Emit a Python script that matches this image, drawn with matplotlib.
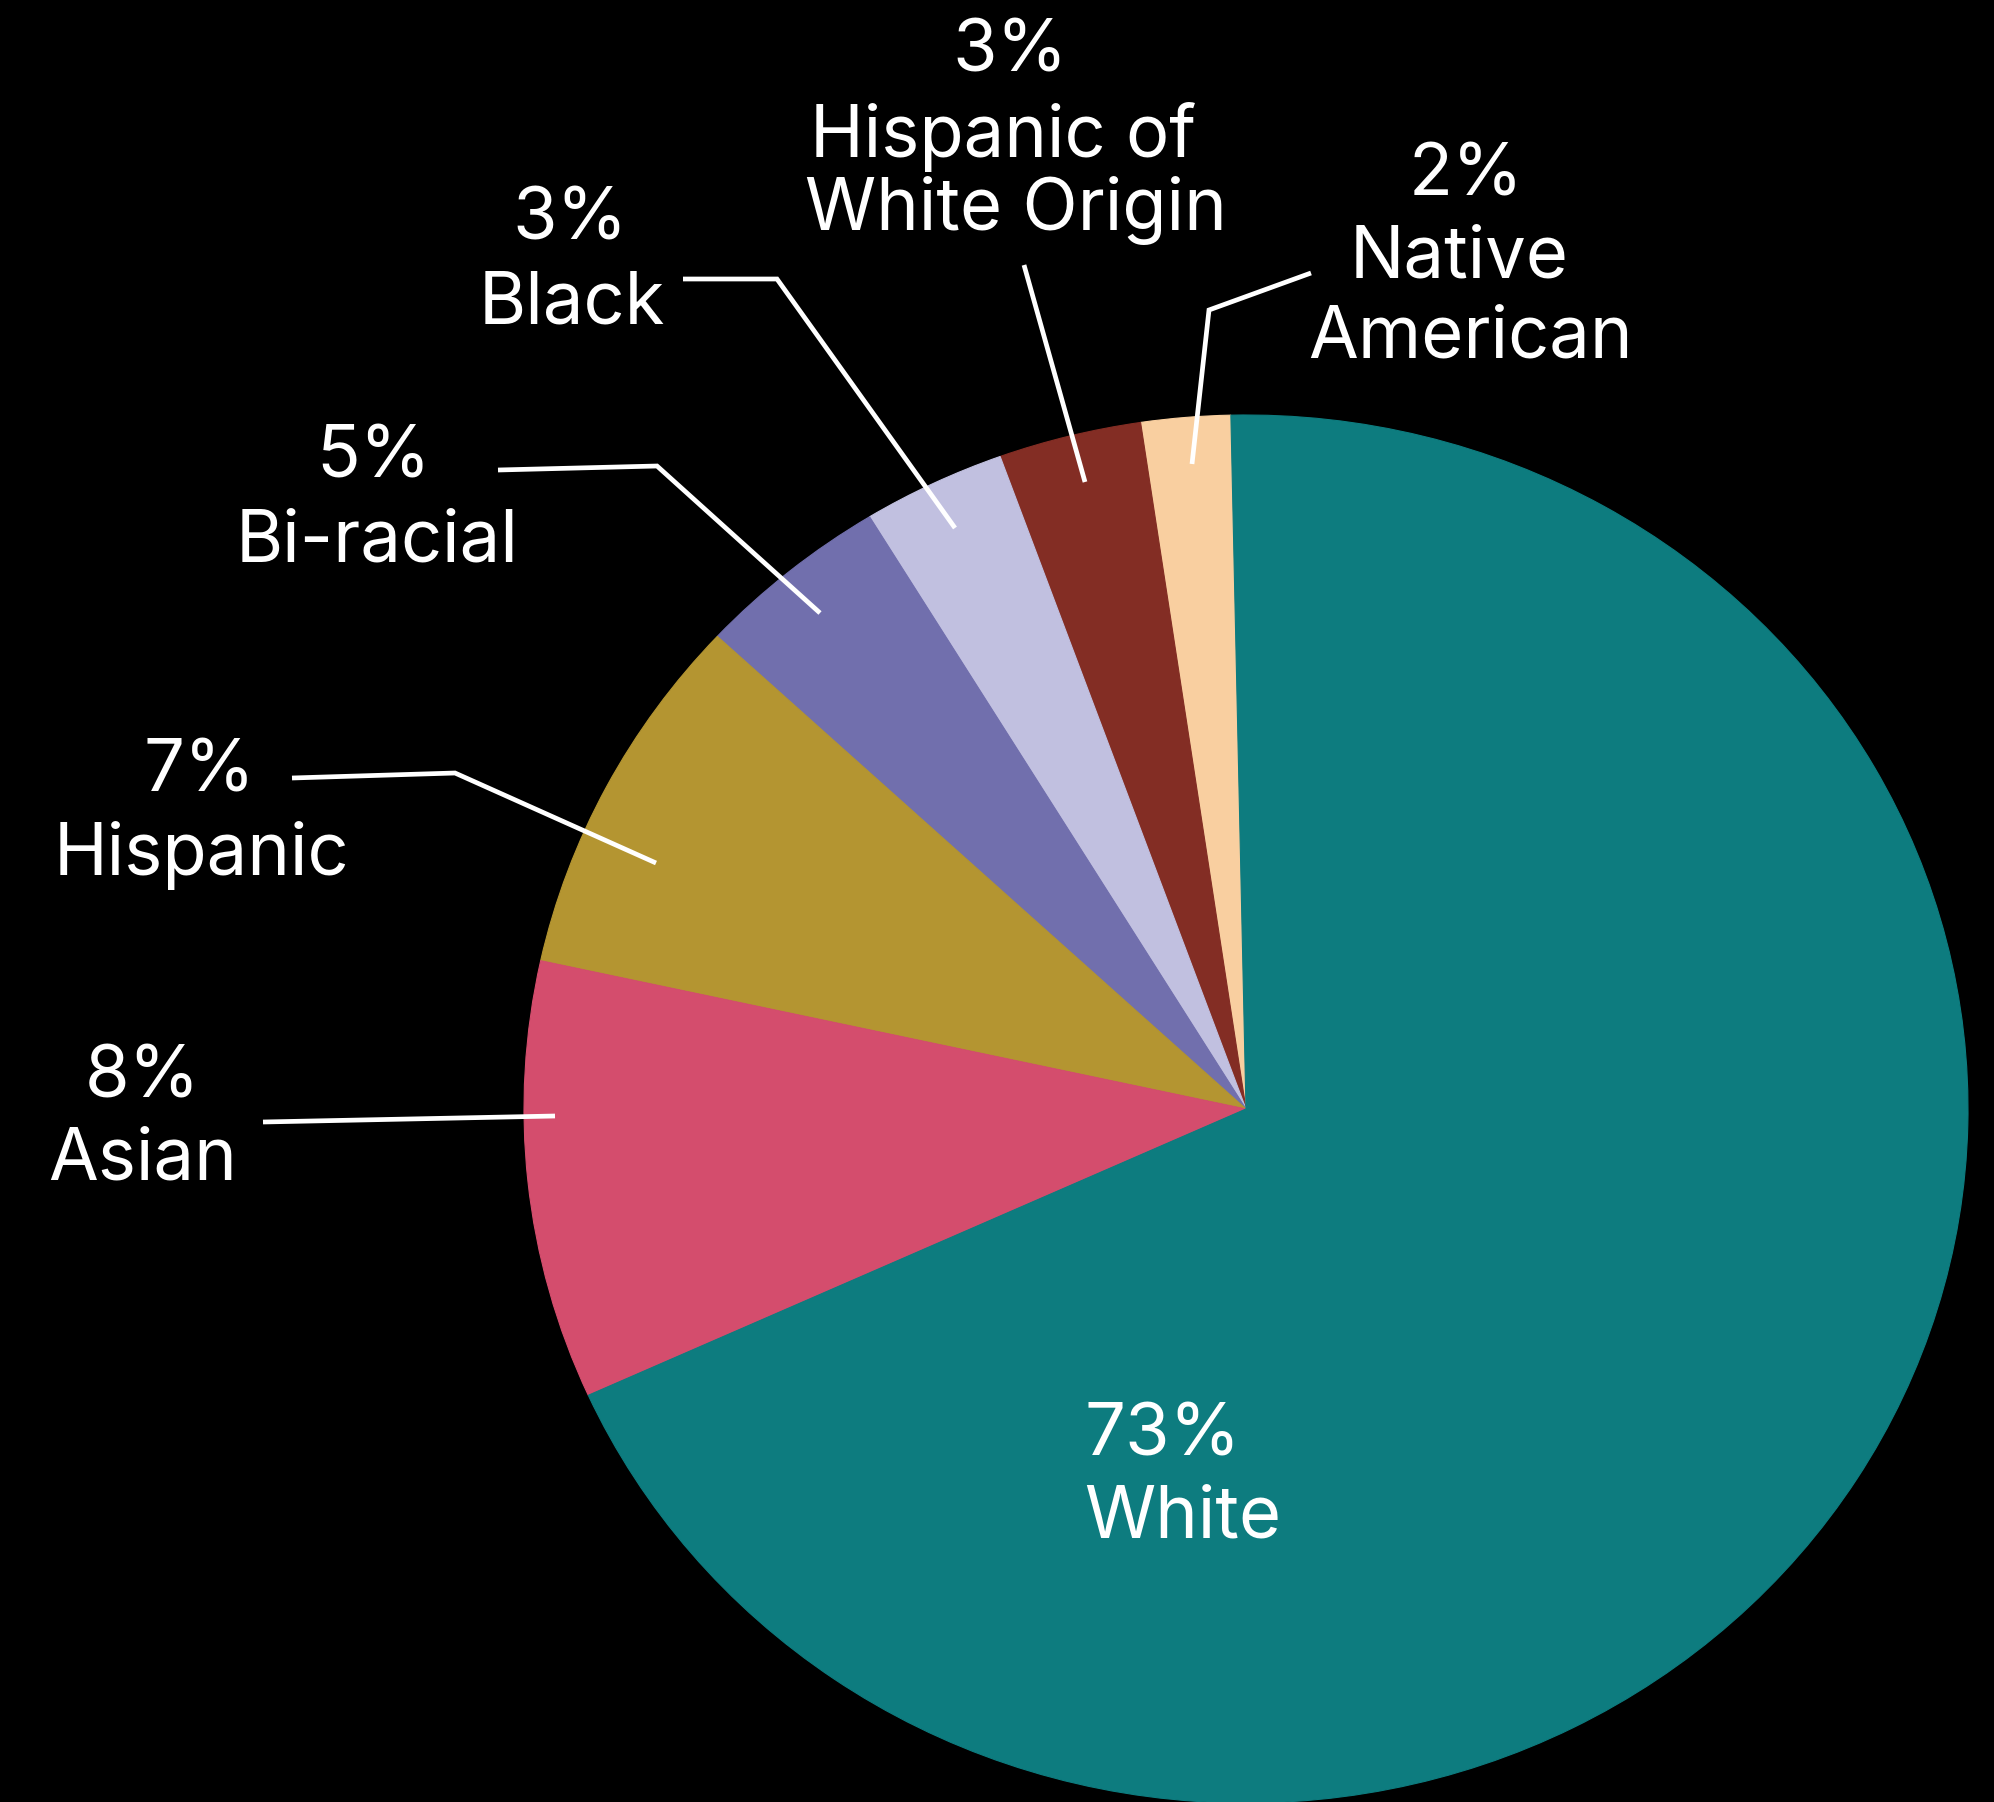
"""Pie chart of student ethnicity on a black background, with leader-line labels."""

import matplotlib as mpl

mpl.use("Agg")
import matplotlib.pyplot as plt

# wedge order: counter-clockwise from the top
groups = ["Native American", "Hispanic of White Origin", "Black", "Bi-racial",
          "Hispanic", "Asian", "White"]
# shares as the wedges are drawn in the picture
shares = [2.0, 3.2, 3.2, 4.35, 8.5, 10.2, 68.6]
# percentages as printed on the labels
pct_labels = ["2%", "3%", "3%", "5%", "7%", "8%", "73%"]
name_lines = [["Native", "American"], ["Hispanic of", "White Origin"], ["Black"],
              ["Bi-racial"], ["Hispanic"], ["Asian"], ["White"]]
colors = ["#F9CFA0", "#832D24", "#C1C0E0", "#716FAD", "#B49531", "#D44D6D", "#0D7C7F"]

W, H = 1994, 1802
FONT = ["Inter", "DejaVu Sans"]

# label layout, in pixels: (x, baselines, alignment)
label_pos = [
    ([1466, 1459, 1470], [195, 277, 358], "center"),
    ([1010, 1003, 1016], [71, 157, 230], "center"),
    ([570, 572], [239, 324], "center"),
    ([374, 377], [478, 562], "center"),
    ([199, 201], [792, 875], "center"),
    ([142, 143], [1098, 1179], "center"),
    ([1084, 1084], [1455, 1537], "left"),
]
# leader lines, in pixels
leaders = [
    [(1311, 273), (1209, 310), (1192, 464)],
    [(1024, 265), (1085, 482)],
    [(683, 279), (777, 279), (955, 528)],
    [(498, 470), (657, 466), (820, 613)],
    [(292, 778), (455, 773), (656, 863)],
    [(263, 1122), (555, 1116)],
    None,
]

fig = plt.figure(figsize=(W / 100, H / 100), dpi=100, facecolor="black")

# the pie is slightly wider than tall in the original
cx, cy, rx, ry = 1246, 1109, 722, 694
ax = fig.add_axes([(cx - rx) / W, (H - cy - ry) / H, 2 * rx / W, 2 * ry / H])
wedges, _ = ax.pie(shares, colors=colors, startangle=91.2, counterclock=True,
                   radius=1, wedgeprops={"linewidth": 0})
for w in wedges:
    w.set_edgecolor(w.get_facecolor())
    w.set_linewidth(0.8)
ax.set_aspect("auto")
ax.set_xlim(-1, 1)
ax.set_ylim(-1, 1)
ax.axis("off")

over = fig.add_axes([0, 0, 1, 1])
over.set_xlim(0, W)
over.set_ylim(H, 0)
over.axis("off")
over.patch.set_alpha(0)

for pct, names, (xs, ys, ha), lead in zip(pct_labels, name_lines, label_pos, leaders):
    for text, x, y in zip([pct, *names], xs, ys):
        over.text(x, y, text, ha=ha, va="baseline", color="white",
                  fontsize=52, family=FONT)
    if lead:
        over.plot([p[0] for p in lead], [p[1] for p in lead], color="white",
                  lw=3.4, solid_capstyle="butt", solid_joinstyle="miter")

fig.savefig("out.png", dpi=100, facecolor="black")
plt.close(fig)
